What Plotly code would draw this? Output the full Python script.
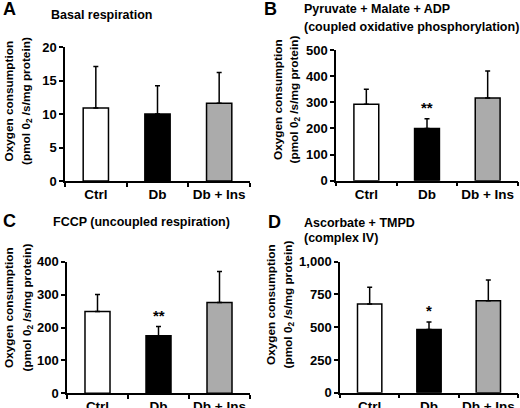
import plotly.graph_objects as go

# data (mean and upper error, pmol O2/s/mg protein)
categories = ["Ctrl", "Db", "Db + Ins"]
bar_colors = ["white", "black", "#ababab"]

basal_mean = [10.9, 10.0, 11.6]
basal_err = [6.2, 4.2, 4.6]
basal_sig = ["", "", ""]

pmadp_mean = [292, 200, 316]
pmadp_err = [58, 37, 104]
pmadp_sig = ["", "**", ""]

fccp_mean = [249, 175, 276]
fccp_err = [51, 28, 94]
fccp_sig = ["", "**", ""]

asc_mean = [677, 482, 702]
asc_err = [128, 58, 158]
asc_sig = ["", "*", ""]

W, H = 520, 408
FONT = "Liberation Sans, Arial, sans-serif"


def px(x):
    return x / W


def py(y):
    return 1 - y / H


# panel layout in pixels: letter, title lines, axis box, y-title positions
panels = [
    dict(mean=basal_mean, err=basal_err, sig=basal_sig, letter="A",
         letter_xy=(1, 8.5), title=["Basal respiration"], title_xy=(49, 15.5), title_gap=17,
         xdom=(65, 250), ydom=(181, 47), yrange=[0, 20], dtick=5,
         ytitle_x=(8.5, 26), ytitle_y=101),
    dict(mean=pmadp_mean, err=pmadp_err, sig=pmadp_sig, letter="B",
         letter_xy=(262, 9.2), title=["Pyruvate + Malate + ADP", "(coupled oxidative phosphorylation)"],
         title_xy=(302, 8.7), title_gap=18,
         xdom=(336, 518), ydom=(180.7, 50), yrange=[0, 500], dtick=100,
         ytitle_x=(278, 293.5), ytitle_y=100),
    dict(mean=fccp_mean, err=fccp_err, sig=fccp_sig, letter="C",
         letter_xy=(1, 221.5), title=["FCCP (uncoupled respiration)"], title_xy=(51, 222.5), title_gap=17,
         xdom=(67, 250), ydom=(393.3, 261.7), yrange=[0, 400], dtick=100,
         ytitle_x=(9, 26.5), ytitle_y=308),
    dict(mean=asc_mean, err=asc_err, sig=asc_sig, letter="D",
         letter_xy=(265.5, 222.5), title=["Ascorbate + TMPD", "(complex IV)"], title_xy=(302, 223), title_gap=15,
         xdom=(340, 518), ydom=(392.7, 261.7), yrange=[0, 1000], dtick=250,
         ytitle_x=(271, 287.5), ytitle_y=305),
]

fig = go.Figure()
annotations = []

for i, p in enumerate(panels):
    n = "" if i == 0 else str(i + 1)
    fig.add_trace(go.Bar(
        x=categories,
        y=p["mean"],
        marker=dict(color=bar_colors, line=dict(color="black", width=1.5)),
        error_y=dict(type="data", array=p["err"], arrayminus=[0] * len(p["err"]),
                     symmetric=False, color="black", thickness=1.5, width=2.5),
        xaxis="x" + n, yaxis="y" + n,
        showlegend=False, hoverinfo="skip",
    ))

    fig.layout["xaxis" + n] = dict(
        domain=[px(p["xdom"][0]), px(p["xdom"][1])],
        anchor="y" + n, type="category", range=[-0.5, 2.5], automargin=False,
        showline=True, linecolor="black", linewidth=1.5,
        ticks="outside", tickson="boundaries", ticklen=4, tickwidth=1.5, tickcolor="black",
        tickangle=0, showgrid=False, zeroline=False,
        tickfont=dict(family=FONT, size=13.5, color="black", weight="bold"),
    )
    fig.layout["yaxis" + n] = dict(
        domain=[py(p["ydom"][0]), py(p["ydom"][1])],
        anchor="x" + n, range=p["yrange"], dtick=p["dtick"], tickformat=",d", automargin=False,
        showline=True, linecolor="black", linewidth=1.5,
        ticks="outside", ticklen=4, tickwidth=1.5, tickcolor="black",
        showgrid=False, zeroline=False,
        tickfont=dict(family=FONT, size=13, color="black", weight="bold"),
    )

    # panel letter
    annotations.append(dict(
        text=p["letter"], xref="paper", yref="paper",
        x=px(p["letter_xy"][0]), y=py(p["letter_xy"][1]),
        xanchor="left", yanchor="middle", showarrow=False,
        font=dict(family=FONT, size=18, color="black", weight="bold"),
    ))
    # panel title lines
    for k, line in enumerate(p["title"]):
        annotations.append(dict(
            text=line, xref="paper", yref="paper",
            x=px(p["title_xy"][0]), y=py(p["title_xy"][1] + k * p["title_gap"]),
            xanchor="left", yanchor="middle", showarrow=False,
            font=dict(family=FONT, size=12.5, color="black", weight="bold"),
        ))
    # y-axis title, two rotated lines
    for k, line in enumerate(["Oxygen consumption", "(pmol 0<sub>2</sub> /s/mg protein)"]):
        annotations.append(dict(
            text=line, xref="paper", yref="paper", textangle=-90,
            x=px(p["ytitle_x"][k]), y=py(p["ytitle_y"]),
            xanchor="center", yanchor="middle", showarrow=False,
            font=dict(family=FONT, size=11.8, color="black", weight="bold"),
        ))
    # significance stars above the error bars
    for cat, m, e, s in zip(categories, p["mean"], p["err"], p["sig"]):
        if s:
            annotations.append(dict(
                text=s, x=cat, y=m + e, xref="x" + n, yref="y" + n,
                xanchor="center", yanchor="bottom", yshift=1, showarrow=False,
                font=dict(family=FONT, size=15, color="black", weight="bold"),
            ))

fig.update_layout(
    width=W, height=H,
    margin=dict(l=0, r=0, t=0, b=0),
    paper_bgcolor="white", plot_bgcolor="white",
    bargap=0.59,
    annotations=annotations,
)

# the page body has a default 8px margin; drop it so the figure sits at the window corner
fig.write_html("out.html", config={"displayModeBar": False},
               post_script="document.body.style.margin='0';")
